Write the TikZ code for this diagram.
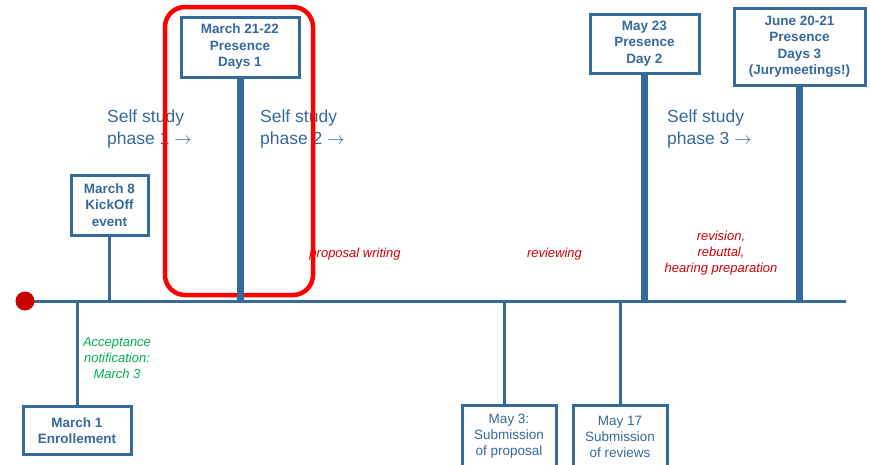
\documentclass[tikz,border=0pt]{standalone}
\usepackage{fontspec}
\setmainfont{Liberation Sans}
\definecolor{tlblue}{HTML}{356A9C}
\definecolor{txtred}{HTML}{D0000A}
\definecolor{accgreen}{HTML}{00B050}
\definecolor{dotred}{HTML}{C80000}
\definecolor{hlred}{HTML}{FF0000}
\newcommand{\phasearrow}{\ $\rightarrow$}
\tikzset{
  evbox/.style={draw=tlblue, line width=3pt, fill=white, inner sep=0pt, align=center,
    text=tlblue, font=\fontsize{13.5}{16.5}\selectfont\bfseries},
  subbox/.style={draw=tlblue, line width=3pt, fill=white, inner sep=0pt, align=center,
    text=tlblue, font=\fontsize{13.5}{16}\selectfont},
  thin/.style={draw=tlblue, line width=3pt},
  thick/.style={draw=tlblue, line width=7pt},
  phase/.style={text=tlblue, align=left, anchor=west, inner sep=0pt,
    font=\fontsize{17.5}{22}\selectfont},
  work/.style={text=txtred, align=center, inner sep=0pt,
    font=\fontsize{13}{16}\selectfont\itshape},
  acc/.style={text=accgreen, align=center, inner sep=0pt,
    font=\fontsize{13}{16}\selectfont\itshape},
}
\begin{document}
\begin{tikzpicture}[x=1pt,y=-1pt]
\useasboundingbox (0,0) rectangle (870,464);
% main line end points
\coordinate (L) at (25,301);
\coordinate (R) at (846,301);

% texts
\node[phase] (ph1) at (107,129) {Self study\\phase 1\phasearrow};
\node[phase] (ph2) at (260,129) {Self study\\phase 2\phasearrow};
\node[phase] (ph3) at (667,129) {Self study\\phase 3\phasearrow};
\node[work] (pw) at (355,254) {proposal writing};
\node[work] (rv) at (554.5,254) {reviewing};
\node[work] (rr) at (721,253) {revision,\\rebuttal,\\hearing preparation};
\node[acc] (acc) at (117,358) {Acceptance\\notification:\\March 3};

% highlight
\draw[hlred, line width=4.5pt, rounded corners=20pt] (165,7) rectangle (313,295);

% main line and dot
\draw[thin] (L) -- (R);
\fill[dotred] (L) circle (9.5);

% event boxes above
\node[evbox, minimum width=77pt, minimum height=60pt] (kick) at (109.5,205) {March 8\\KickOff\\event};
\node[evbox, minimum width=118pt, minimum height=60pt] (pd1) at (240,47) {March 21-22\\Presence\\Days 1};
\node[evbox, minimum width=109pt, minimum height=59pt] (pd2) at (644.5,43.5) {May 23\\Presence\\Day 2};
\node[evbox, minimum width=131pt, minimum height=77pt] (pd3) at (799.5,46.5) {June 20-21\\Presence\\Days 3\\(Jurymeetings!)};

% event boxes below
\node[evbox, minimum width=108pt, minimum height=48pt] (enr) at (77,430.5) {March 1\\Enrollement};
\node[subbox, minimum width=94pt, minimum height=62pt, anchor=north] (sp) at (509,404) {May 3:\\Submission\\of proposal};
\node[subbox, minimum width=94pt, minimum height=62pt, anchor=north] (sr) at (620,404) {May 17\\Submission\\of reviews};

% connectors
\draw[thin] (kick.south) -- (kick.south |- L);
\draw[thin] (enr.north) -- (enr.north |- L);
\draw[thin] ([xshift=-5pt]sp.north) -- ([xshift=-5pt]sp.north |- L);
\draw[thin] (sr.north) -- (sr.north |- L);
\draw[thick] (pd1.south) -- (pd1.south |- L);
\draw[thick] (pd2.south) -- (pd2.south |- L);
\draw[thick] (pd3.south) -- (pd3.south |- L);
\end{tikzpicture}
\end{document}
